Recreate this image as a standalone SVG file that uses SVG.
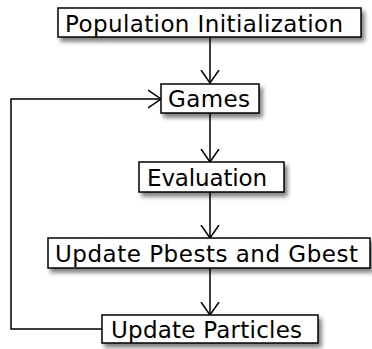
<svg xmlns="http://www.w3.org/2000/svg" width="372" height="349" viewBox="0 0 372 349">
  <style>
    .box { fill: #ffffff; stroke: #000000; stroke-width: 1.5; filter: url(#shadow); }
    .label { font-family: "DejaVu Sans", Verdana, sans-serif; font-size: 23px; fill: #000000; }
    .edge { fill: none; stroke: #000000; stroke-width: 1.5; marker-end: url(#chevron); }
  </style>
  <defs>
    <filter id="shadow" x="-10%" y="-30%" width="125%" height="180%">
      <feDropShadow dx="3" dy="4" stdDeviation="2" flood-color="#000000" flood-opacity="0.5"/>
    </filter>
    <marker id="chevron" viewBox="0 0 14 20" refX="13" refY="10" markerWidth="14" markerHeight="20" markerUnits="userSpaceOnUse" orient="auto">
      <path d="M0,1 L13,10 L0,19" fill="none" stroke="#000000" stroke-width="1.5"/>
    </marker>
  </defs>

  <!-- connectors -->
  <g id="connectors">
    <line class="edge" x1="210" y1="37" x2="210" y2="83"/>
    <line class="edge" x1="210" y1="113" x2="210" y2="162"/>
    <line class="edge" x1="210" y1="192" x2="210" y2="238"/>
    <line class="edge" x1="210" y1="268" x2="210" y2="315"/>
    <polyline class="edge" points="102,329 11,329 11,99 161,99"/>
  </g>

  <!-- process steps -->
  <g id="population-init">
    <rect class="box" x="58" y="8" width="303" height="29"/>
    <text class="label" x="65" y="31.5" textLength="278" lengthAdjust="spacing">Population Initialization</text>
  </g>
  <g id="games">
    <rect class="box" x="161" y="84" width="98" height="29"/>
    <text class="label" x="168" y="106.5" textLength="82" lengthAdjust="spacing">Games</text>
  </g>
  <g id="evaluation">
    <rect class="box" x="139" y="162" width="145" height="30"/>
    <text class="label" x="147" y="185.5" textLength="120" lengthAdjust="spacing">Evaluation</text>
  </g>
  <g id="update-bests">
    <rect class="box" x="48" y="238" width="322" height="30"/>
    <text class="label" x="55" y="262" textLength="303" lengthAdjust="spacing">Update Pbests and Gbest</text>
  </g>
  <g id="update-particles">
    <rect class="box" x="102" y="315" width="216" height="28"/>
    <text class="label" x="111" y="338" textLength="191" lengthAdjust="spacing">Update Particles</text>
  </g>
</svg>
